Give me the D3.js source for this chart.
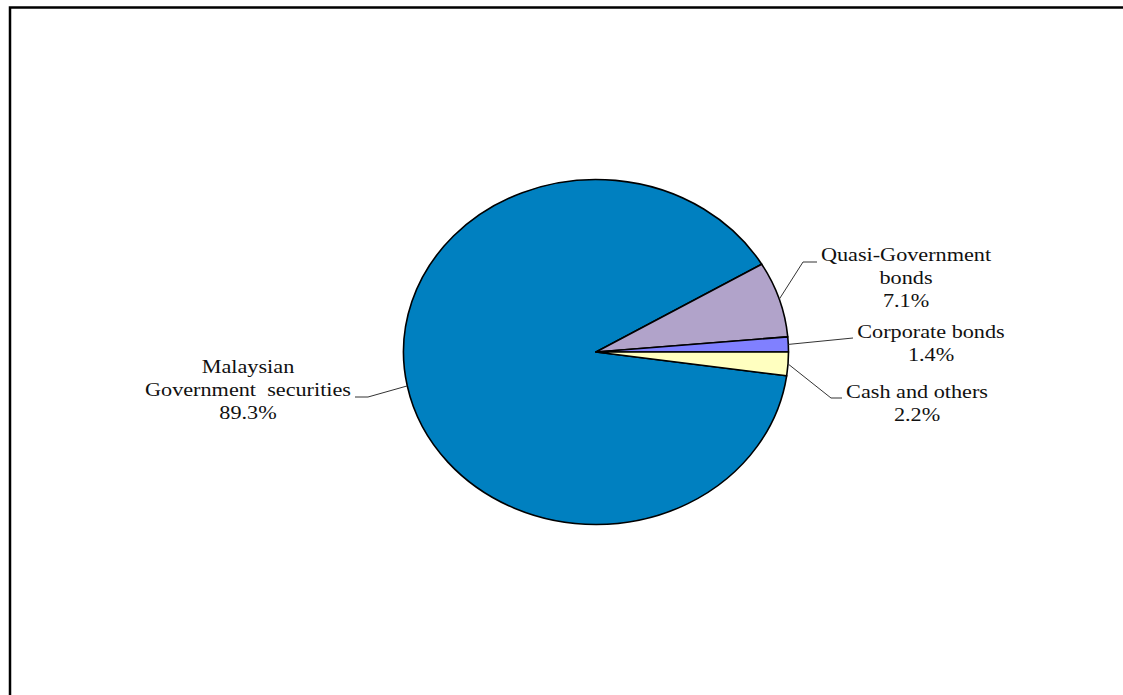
<!DOCTYPE html>
<html>
<head>
<meta charset="utf-8">
<script src="https://cdn.jsdelivr.net/npm/d3@7"></script>
<style>
  html, body { margin: 0; padding: 0; background: #fff; }
  svg { display: block; }
  text { font-family: "Liberation Serif", "Times New Roman", serif; fill: #111; }
</style>
</head>
<body>
<svg id="chart" width="1123" height="695"></svg>
<script>
// ---- data ----
const categories = ["Malaysian Government securities", "Quasi-Government bonds", "Corporate bonds", "Cash and others"];
const values = [89.3, 7.1, 1.4, 2.2];
const valueLabels = ["89.3%", "7.1%", "1.4%", "2.2%"];
const labelLines = [
  ["Malaysian", "Government  securities", "89.3%"],
  ["Quasi-Government", "bonds", "7.1%"],
  ["Corporate bonds", "1.4%"],
  ["Cash and others", "2.2%"]
];
const colors = ["#0080C0", "#B1A3CA", "#8080FF", "#FFFFC0"];

// ---- layout ----
const W = 1123, H = 695;
const cx = 596, cy = 352, rx = 192.5, ry = 172.5;
const total = d3.sum(values);
const deg = Math.PI / 180;
// first slice (MGS) begins just after the last slice, which ends at 3 o'clock
const start = Math.PI / 2 + (values[3] / total) * 2 * Math.PI;

const svg = d3.select("#chart");

// frame
svg.append("path")
  .attr("d", `M10,${H + 5} L10,7.5 L${W + 5},7.5`)
  .attr("fill", "none").attr("stroke", "#000").attr("stroke-width", 2.5);

const pie = d3.pie().sort(null).value(d => d)
  .startAngle(start).endAngle(start + 2 * Math.PI);
const arcs = pie(values);
const arc = d3.arc().innerRadius(0).outerRadius(rx);

const g = svg.append("g")
  .attr("transform", `translate(${cx},${cy}) scale(1,${ry / rx})`);
g.selectAll("path.slice").data(arcs).join("path")
  .attr("class", "slice")
  .attr("d", arc)
  .attr("fill", (d, i) => colors[i])
  .attr("stroke", "#000")
  .attr("stroke-width", 1.6)
  .attr("stroke-linejoin", "round")
  .attr("vector-effect", "non-scaling-stroke");

function edgePoint(d) {
  const a = (d.startAngle + d.endAngle) / 2;
  return [cx + rx * Math.sin(a), cy - ry * Math.cos(a)];
}

// leader elbows and label anchors (layout)
const leaders = [
  { elbow: [368, 397], end: [355, 397], tx: 248, ty: 373 },
  { elbow: [803, 262], end: [817, 262], tx: 906, ty: 261 },
  { elbow: [853, 338], end: [853, 338], tx: 931, ty: 338 },
  { elbow: [831, 398], end: [842, 398], tx: 917, ty: 398 }
];
const lineH = 23;
const fontSize = 19.5, stretch = 1.14;

arcs.forEach((d, i) => {
  const p = edgePoint(d);
  const L = leaders[i];
  svg.append("path")
    .attr("d", `M${p[0]},${p[1]} L${L.elbow[0]},${L.elbow[1]} L${L.end[0]},${L.end[1]}`)
    .attr("fill", "none").attr("stroke", "#333").attr("stroke-width", 1);
  const tg = svg.append("g")
    .attr("transform", `translate(${L.tx},${L.ty}) scale(${stretch},1)`);
  labelLines[i].forEach((s, j) => {
    tg.append("text")
      .attr("x", 0).attr("y", j * lineH)
      .attr("text-anchor", "middle")
      .attr("font-size", fontSize)
      .attr("xml:space", "preserve")
      .style("white-space", "pre")
      .text(s);
  });
});
</script>
</body>
</html>
